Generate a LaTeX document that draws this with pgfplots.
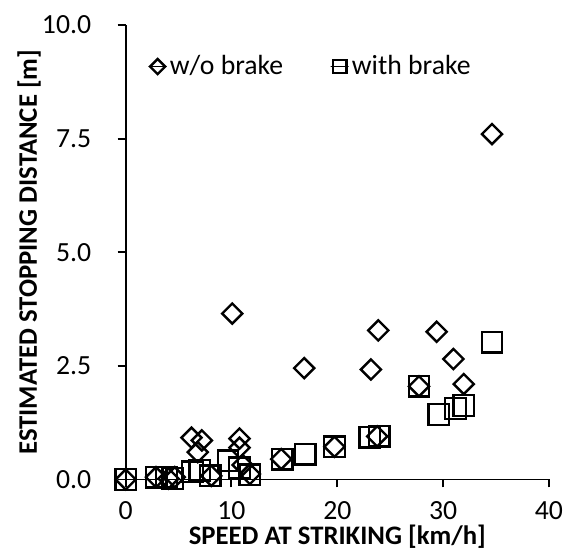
\documentclass[border=0pt]{standalone}
\usepackage{pgfplots}
\pgfplotsset{compat=1.18}
\usepackage{fontspec}
\setmainfont{Carlito}

\begin{document}
\fontsize{14}{16}\selectfont
\begin{tikzpicture}
  \begin{axis}[
      scale only axis,
      width=213.9pt, height=229.7pt,
      xmin=0, xmax=40, ymin=0, ymax=10,
      axis lines=left,
      axis line style={-, line width=1pt},
      xtick={0,10,20,30,40},
      ytick={0,2.5,5,7.5,10},
      tick align=outside,
      major tick length=4pt,
      tick style={line width=1pt, black},
      /pgf/number format/assume math mode=true,
      ticklabel style={font=\fontsize{14}{16}\selectfont},
      yticklabel style={xshift=-8.6pt, /pgf/number format/.cd, fixed, fixed zerofill, precision=1},
      xticklabel style={yshift=-2.5pt},
      xlabel={\bfseries SPEED AT STRIKING [km/h]},
      ylabel={\bfseries ESTIMATED STOPPING DISTANCE [m]},
      label style={font=\fontsize{13.5}{16}\selectfont},
      xlabel style={yshift=7pt},
      ylabel style={yshift=-8.9pt},
      clip=false,
      legend columns=2,
      legend image code/.code={
        \path (-4.5pt,0pt) rectangle (4.5pt,0pt);
        \draw[#1] plot coordinates {(0pt,0pt)};
      },
      legend style={draw=none, fill=none, at={(0.0526,0.9085)}, anchor=west,
        inner sep=0pt,
        nodes={inner sep=1.5pt},
        /tikz/every even column/.append style={column sep=22.3pt}},
      legend cell align=left,
    ]
    % w/o brake
    \addplot[only marks, mark=square, mark size=3.6pt,
      mark options={rotate=45, line width=1.2pt, black},
      legend image post style={mark size=2.7pt}] coordinates {
      (0,0) (2.87,0.05) (4.05,0.02) (4.64,0.05)
      (6.22,0.92) (7.2,0.86) (6.81,0.6) (8.09,0.08)
      (10.07,3.65) (10.76,0.9) (10.76,0.7) (11.05,0.32) (11.74,0.12)
      (14.7,0.45) (16.87,2.45) (19.73,0.72) (23.18,2.42) (23.77,0.95)
      (23.87,3.28) (27.72,2.05) (29.39,3.25) (30.97,2.65) (31.95,2.1)
      (34.62,7.6)
    };
    % with brake
    \addplot[only marks, mark=square, mark size=5.2pt,
      mark options={line width=1.2pt, black},
      legend image post style={mark size=3.4pt}] coordinates {
      (0,0) (2.87,0.05) (3.85,0.05) (4.45,0.02)
      (6.32,0.17) (7.01,0.2) (8.0,0.08)
      (9.67,0.41) (10.76,0.26) (11.74,0.1)
      (14.8,0.45) (16.97,0.56) (19.73,0.72) (23.08,0.93) (23.97,0.95)
      (27.72,2.05) (29.59,1.43) (31.17,1.56) (31.95,1.63) (34.62,3.02)
    };
    \legend{w/o brake, with brake}
  \end{axis}
  \pgfresetboundingbox
  \path[use as bounding box] ([shift={(-63.5pt,-38.7pt)}]current axis.south west) rectangle ++(285pt,281pt);
\end{tikzpicture}
\end{document}
